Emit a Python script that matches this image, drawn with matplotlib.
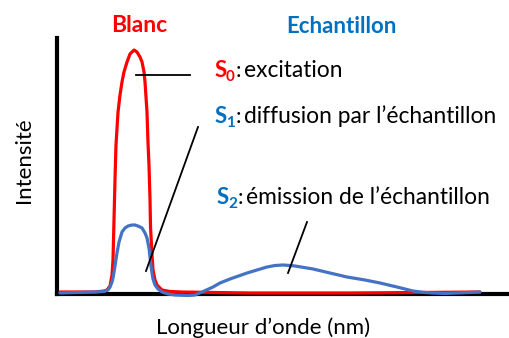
import matplotlib
matplotlib.use("Agg")
import matplotlib.pyplot as plt
from matplotlib.lines import Line2D

W, H = 509, 338
plt.rcParams['font.family'] = ['Lato', 'DejaVu Sans']

RED = '#FF0000'
BLUE_LINE = '#4472C4'
BLUE_TEXT = '#0070C0'

# Wavelength (arbitrary units, 0-100) and intensity (arbitrary units, 0-100)
blank_wl = [0.66, 8.41, 10.40, 11.06, 11.73, 12.17, 12.39, 12.61, 12.83, 13.05, 13.50,
            13.94, 14.38, 14.82, 15.49, 16.15, 17.04, 17.70, 18.36, 18.81, 19.25,
            19.47, 19.69, 19.91, 20.13, 20.35, 20.58, 20.69, 21.02, 21.24, 21.68,
            22.12, 23.23, 25.00, 27.65, 42.70, 64.82, 80.31, 93.58]
blank_int = [0.78, 0.78, 1.17, 1.56, 3.13, 7.42, 13.28, 28.91, 44.53, 58.20, 71.09,
             77.73, 82.81, 86.72, 90.63, 93.75, 95.31, 94.53, 92.58, 90.63, 86.72,
             82.81, 76.95, 71.09, 59.38, 50.39, 36.72, 26.17, 15.23, 9.38, 5.47,
             3.52, 1.56, 0.98, 0.78, 0.39, 0.39, 0.59, 0.78]
sample_wl = [0.66, 8.41, 10.40, 11.28, 11.73, 12.17, 12.39, 12.83, 13.27, 13.72, 14.38,
             15.04, 15.71, 16.59, 17.26, 17.92, 18.81, 19.47, 19.91, 20.35, 20.58,
             20.80, 21.02, 21.24, 21.68, 22.35, 23.23, 24.56, 26.11, 28.98, 30.53,
             32.08, 34.51, 36.06, 38.27, 42.04, 44.25, 46.46, 48.23, 50.00, 51.55,
             52.65, 56.64, 60.40, 64.16, 68.14, 71.46, 75.22, 78.76, 81.42, 83.19,
             85.84, 88.50, 91.37, 93.58]
sample_int = [0.39, 0.78, 0.98, 1.56, 2.73, 4.69, 6.25, 10.94, 16.02, 20.31, 24.22,
              25.78, 26.56, 26.95, 26.95, 26.56, 25.78, 23.83, 21.88, 17.97, 14.45,
              10.94, 8.20, 5.86, 3.52, 1.95, 0.78, 0.00, -0.39, -0.59, -0.39, 0.78,
              2.73, 4.30, 5.86, 8.20, 9.38, 10.55, 11.13, 11.33, 11.13, 10.94, 9.77,
              8.20, 6.64, 5.47, 4.30, 2.73, 1.17, 0.59, 0.39, 0.20, 0.39, 0.59, 0.78]

fig = plt.figure(figsize=(W / 100, H / 100), dpi=100)
ax = fig.add_axes([57 / W, 1 - 294 / H, (W - 57) / W, (294 - 38) / H])
ax.set_xlim(0, 100)
ax.set_ylim(0, 100)

ax.plot(blank_wl, blank_int, color=RED, lw=2.3, solid_capstyle='round',
        solid_joinstyle='round', zorder=3, clip_on=False)
ax.plot(sample_wl, sample_int, color=BLUE_LINE, lw=2.3, solid_capstyle='round',
        solid_joinstyle='round', zorder=4, clip_on=False)

for side in ('top', 'right'):
    ax.spines[side].set_visible(False)
for side in ('left', 'bottom'):
    ax.spines[side].set_linewidth(3)
    ax.spines[side].set_color('black')
    ax.spines[side].set_zorder(2)
ax.set_xticks([])
ax.set_yticks([])
ax.patch.set_alpha(0)


def fx(x):
    return x / W


def fy(y):
    return 1 - y / H


# Leader lines from the labels to the curves
for (x0, y0), (x1, y1) in [((136, 75), (190, 75)),
                           ((198, 127), (146, 271)),
                           ((307, 222), (288, 273))]:
    fig.add_artist(Line2D([fx(x0), fx(x1)], [fy(y0), fy(y1)],
                          color='black', lw=1.3, zorder=5))

FS = 16

fig.text(fx(139.5), fy(32), 'Blanc', color=RED, fontsize=FS + 0.5, fontweight='bold',
         ha='center', va='baseline')
fig.text(fx(341), fy(33), 'Echantillon', color=BLUE_TEXT, fontsize=FS,
         fontweight='bold', ha='center', va='baseline')


def label(x, base, sub, color, rest):
    fig.text(fx(x), fy(base), 'S', color=color, fontsize=FS,
             fontweight='bold', ha='left', va='baseline')
    fig.text(fx(x + 11), fy(base + 4), sub, color=color, fontsize=FS - 5,
             fontweight='bold', ha='left', va='baseline')
    fig.text(fx(x + 20.5), fy(base), ':', color='black', fontsize=FS,
             ha='left', va='baseline')
    fig.text(fx(x + 29), fy(base), rest, color='black', fontsize=FS + 0.4,
             ha='left', va='baseline')


label(215, 77, '0', RED, 'excitation')
label(215, 123, '1', BLUE_TEXT, 'diffusion par l\u2019\u00e9chantillon')
label(217, 204, '2', BLUE_TEXT, '\u00e9mission de l\u2019\u00e9chantillon')

fig.text(fx(263), fy(334), 'Longueur d\u2019onde (nm)', color='black', fontsize=FS,
         ha='center', va='baseline')
fig.text(fx(24), fy(160), 'Intensit\u00e9', color='black', fontsize=FS,
         ha='center', va='center', rotation=90)

fig.savefig('out.png', dpi=100)
